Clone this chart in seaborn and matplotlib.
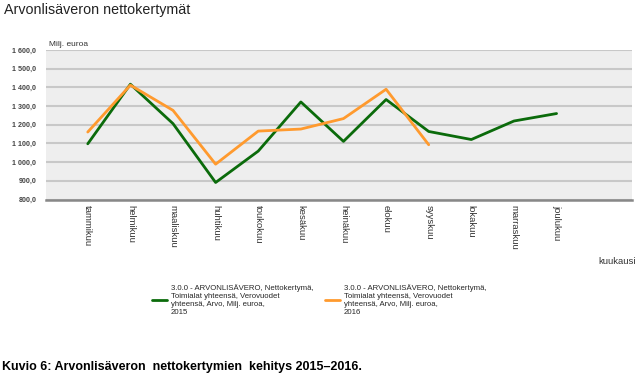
import numpy as np
import pandas as pd
import matplotlib
matplotlib.use("Agg")
import matplotlib.pyplot as plt
import seaborn as sns
from matplotlib.ticker import FuncFormatter

# === Data ===
months = ["tammikuu", "helmikuu", "maaliskuu", "huhtikuu", "toukokuu", "kesäkuu",
          "heinäkuu", "elokuu", "syyskuu", "lokakuu", "marraskuu", "joulukuu"]
vat_2015 = [1098, 1417, 1206, 891, 1059, 1322, 1111, 1335, 1164, 1121, 1220, 1260]
vat_2016 = [1161, 1412, 1277, 989, 1166, 1177, 1233, 1390, 1093]
series_label = ("3.0.0 - ARVONLISÄVERO, Nettokertymä,\nToimialat yhteensä, Verovuodet\n"
                "yhteensä, Arvo, Milj. euroa,\n{}")

df = pd.concat([
    pd.DataFrame({"kuukausi": months, "arvo": vat_2015, "vuosi": series_label.format(2015)}),
    pd.DataFrame({"kuukausi": months[:len(vat_2016)], "arvo": vat_2016, "vuosi": series_label.format(2016)}),
], ignore_index=True)
df["pos"] = df["kuukausi"].map({m: i for i, m in enumerate(months)})

# === Style ===
sns.set_style("white")
plt.rcParams["font.family"] = ["Liberation Sans", "DejaVu Sans"]

fig = plt.figure(figsize=(6.41, 3.76), dpi=100)
W, H = 641, 376
ax = fig.add_axes([46 / W, 1 - 199.5 / H, (632 - 46) / W, (199.5 - 50) / H])
ax.set_facecolor("#eeeeee")

palette = {series_label.format(2015): "#0b6b0b", series_label.format(2016): "#ff9a2e"}
sns.lineplot(data=df, x="pos", y="arvo", hue="vuosi", palette=palette,
             linewidth=2, ax=ax, legend=False, sort=False)

ax.set_ylim(800, 1600)
ax.set_xlim(-0.98, 12.77)
ax.set_yticks(np.arange(800, 1601, 100))
ax.yaxis.set_major_formatter(FuncFormatter(
    lambda v, p: f"{v:,.1f}".replace(",", " ").replace(".", ",")))
ax.set_xticks(range(len(months)))
ax.set_xticklabels(months, rotation=270, fontsize=6.8, color="#333333", va="top", ha="center")
ax.tick_params(axis="y", labelsize=5.1, colors="#d0d0d0", length=4, width=1, pad=3)
ax.tick_params(axis="x", length=0, pad=4)
for lbl in ax.get_yticklabels():
    lbl.set_fontweight("bold")
    lbl.set_color("#444444")

ax.grid(axis="y", color="#c8c8c8", linewidth=1.5)
ax.set_axisbelow(True)
for s in ["top", "right", "left"]:
    ax.spines[s].set_visible(False)
ax.spines["bottom"].set_color("#888888")
ax.spines["bottom"].set_linewidth(1.8)
ax.set_xlabel("")
ax.set_ylabel("")

# === Texts ===
fig.text(4 / W, 1 - 10 / H, "Arvonlisäveron nettokertymät", fontsize=10.3,
         color="#222222", va="center", ha="left")
fig.text(49 / W, 1 - 44 / H, "Milj. euroa", fontsize=6, color="#333333", va="center")
fig.text(636 / W, 1 - 262 / H, "kuukausi", fontsize=6.8, color="#333333", va="center", ha="right")
fig.text(2 / W, 1 - 367 / H, "Kuvio 6: Arvonlisäveron  nettokertymien  kehitys 2015–2016.",
         fontsize=9, fontweight="bold", color="black", va="center", ha="left")

# === Legend ===
handles = [plt.Line2D([], [], color=c, linewidth=2) for c in palette.values()]
fig.legend(handles, list(palette.keys()), loc="upper left",
           bbox_to_anchor=(152 / W, 1 - 284 / H), ncol=2, frameon=False,
           fontsize=5.6, handlelength=1.9, handletextpad=0.5, columnspacing=1.5,
           labelspacing=0.25, borderaxespad=0, borderpad=0)

fig.savefig("out.png", dpi=100, facecolor="white")
